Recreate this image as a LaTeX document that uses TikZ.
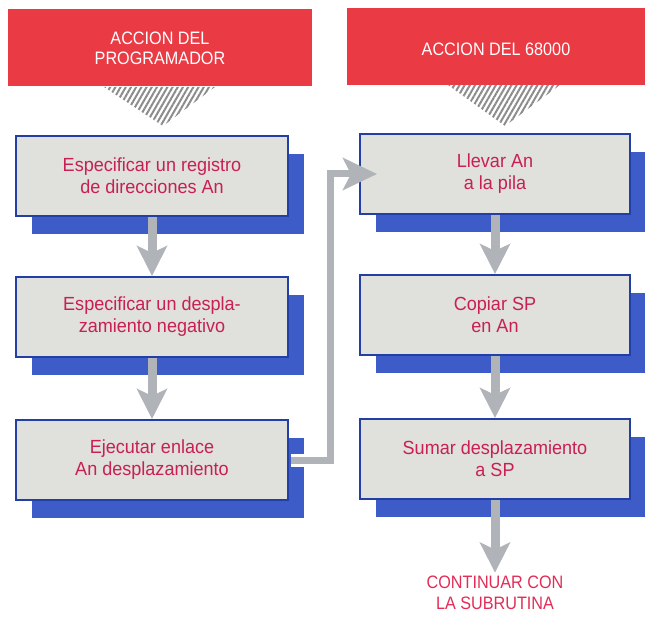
\documentclass[tikz,border=0pt]{standalone}
\usepackage{fontspec}
\setmainfont{Liberation Sans}
\newfontfamily\narrowfont{Liberation Sans}[FakeStretch=0.9]
\newfontfamily\boxfont{Liberation Sans}[FakeStretch=0.95]
\usetikzlibrary{arrows.meta,shadows,patterns.meta}

\definecolor{hdrred}{RGB}{234,58,68}
\definecolor{boxblue}{RGB}{35,62,165}
\definecolor{boxgray}{RGB}{224,224,220}
\definecolor{shadeblue}{RGB}{62,92,200}
\definecolor{txtred}{RGB}{200,32,82}
\definecolor{endred}{RGB}{226,44,86}
\definecolor{arrgray}{RGB}{176,179,183}
\definecolor{hatchgray}{RGB}{140,140,140}

\begin{document}
\begin{tikzpicture}[x=1pt,y=-1pt,
  every node/.style={font=\boxfont\fontsize{19}{22}\selectfont},
  hdr/.style={fill=hdrred,text=white,align=center,inner sep=0pt,minimum width=304pt,minimum height=77pt,font=\narrowfont\fontsize{18}{20}\selectfont},
  proc/.style={draw=boxblue,line width=2pt,fill=boxgray,text=txtred,align=center,inner sep=0pt,minimum width=272pt,minimum height=80pt,
    general shadow={fill=shadeblue,shadow xshift=16pt,shadow yshift=-18pt}},
  hatch/.style={pattern={Lines[angle=60,distance=4.5pt,line width=2pt]},pattern color=hatchgray},
  fat/.style={draw=arrgray,line width=9pt,-{Stealth[length=30pt,width=30pt,inset=7pt]}},
  conn/.style={draw=arrgray,line width=7pt,-{Stealth[length=34pt,width=32pt,inset=8pt]}}]
\useasboundingbox (0,0) rectangle (645,620);
\node[hdr] (hL) at (160,48) {ACCION DEL\\PROGRAMADOR};
\node[hdr,minimum width=298pt,text height=18pt] (hR) at (496,47) {ACCION DEL 68000};
\fill[hatch] (104,87) -- (215,87) -- (163,126) -- cycle;
\fill[hatch] (448,85) -- (560,85) -- (505,126) -- cycle;
\node[proc] (L1) at (152,176) {Especificar un registro\\de direcciones An};
\node[proc] (L2) at (152,317) {Especificar un despla-\\zamiento negativo};
\node[proc] (L3) at (152,460) {Ejecutar enlace\\An desplazamiento};
\node[proc,minimum width=270pt] (R1) at (495,174) {Llevar An\\a la pila};
\node[proc,minimum width=270pt] (R2) at (495,315) {Copiar SP\\en An};
\node[proc,minimum width=270pt] (R3) at (495,459) {Sumar desplazamiento\\a SP};
\node[text=endred,align=center,font=\narrowfont\fontsize{18}{21}\selectfont] (fin) at (495,593) {CONTINUAR CON\\LA SUBRUTINA};
\foreach \a/\b in {L1/L2,L2/L3,R1/R2,R2/R3,R3/fin} \draw[fat] (\a.south) -- (\b.north);
\coordinate (jog) at (330,0);
\draw[white,line width=13pt,shorten <=1.5pt] (L3.east) -- (L3.east -| jog);
\draw[conn,shorten <=1.5pt,shorten >=-18pt] (L3.east) -- (L3.east -| jog) |- (R1.west);
\end{tikzpicture}
\end{document}
